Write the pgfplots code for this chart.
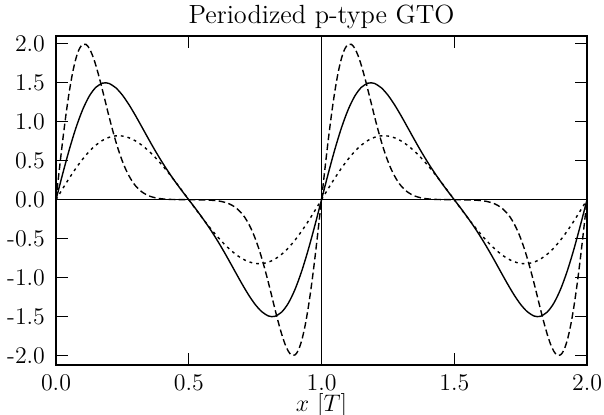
\documentclass[border=0pt]{standalone}
\usepackage{fontspec}
\usepackage{pgfplots}
\pgfplotsset{compat=1.18}
\usepackage{pgfplotstable}

% one period, x in [0,1]; the second period is the same table shifted by 1
\pgfplotstableread{
x      y
0      0
0.025  0.3300
0.05   0.6422
0.075  0.9206
0.1    1.1520
0.125  1.3272
0.15   1.4416
0.175  1.4950
0.1875 1.4999
0.2    1.4913
0.225  1.4365
0.25   1.3423
0.275  1.2186
0.3    1.0758
0.325  0.9237
0.35   0.7701
0.375  0.6212
0.4    0.4803
0.425  0.3491
0.45   0.2268
0.475  0.1115
0.5    0
0.525  -0.1115
0.55   -0.2268
0.575  -0.3491
0.6    -0.4803
0.625  -0.6212
0.65   -0.7701
0.675  -0.9237
0.7    -1.0758
0.725  -1.2186
0.75   -1.3423
0.775  -1.4365
0.8    -1.4913
0.8125 -1.4999
0.825  -1.4950
0.85   -1.4416
0.875  -1.3272
0.9    -1.1520
0.925  -0.9206
0.95   -0.6422
0.975  -0.3300
1      0
}\solid

\pgfplotstableread{
x      y
0      0
0.0125 0.3840
0.025  0.7523
0.0375 1.0903
0.05   1.3854
0.0625 1.6279
0.075  1.8111
0.0875 1.9324
0.1    1.9920
0.1125 1.9939
0.125  1.9441
0.1375 1.8510
0.15   1.7239
0.1625 1.5727
0.175  1.4068
0.1875 1.2347
0.2    1.0642
0.2125 0.9013
0.225  0.7501
0.2375 0.6139
0.25   0.4943
0.2625 0.3915
0.275  0.3053
0.2875 0.2342
0.3    0.1769
0.325  0.0963
0.35   0.0494
0.375  0.0238
0.4    0.0108
0.425  0.0047
0.45   0.0019
0.475  0.0006
0.5    0
0.525  -0.0006
0.55   -0.0019
0.575  -0.0047
0.6    -0.0108
0.625  -0.0238
0.65   -0.0494
0.675  -0.0963
0.7    -0.1769
0.7125 -0.2342
0.725  -0.3053
0.7375 -0.3915
0.75   -0.4943
0.7625 -0.6139
0.775  -0.7501
0.7875 -0.9013
0.8    -1.0642
0.8125 -1.2347
0.825  -1.4068
0.8375 -1.5727
0.85   -1.7239
0.8625 -1.8510
0.875  -1.9441
0.8875 -1.9939
0.9    -1.9920
0.9125 -1.9324
0.925  -1.8111
0.9375 -1.6279
0.95   -1.3854
0.9625 -1.0903
0.975  -0.7523
0.9875 -0.3840
1      0
}\dashed

\pgfplotstableread{
x      y
0      0
0.025  0.1404
0.05   0.2764
0.075  0.4038
0.1    0.5189
0.125  0.6183
0.15   0.6996
0.175  0.7608
0.2    0.8009
0.225  0.8195
0.25   0.8171
0.275  0.7946
0.3    0.7535
0.325  0.6955
0.35   0.6228
0.375  0.5376
0.4    0.4421
0.425  0.3385
0.45   0.2289
0.475  0.1154
0.5    0
0.525  -0.1154
0.55   -0.2289
0.575  -0.3385
0.6    -0.4421
0.625  -0.5376
0.65   -0.6228
0.675  -0.6955
0.7    -0.7535
0.725  -0.7946
0.75   -0.8171
0.775  -0.8195
0.8    -0.8009
0.825  -0.7608
0.85   -0.6996
0.875  -0.6183
0.9    -0.5189
0.925  -0.4038
0.95   -0.2764
0.975  -0.1404
1      0
}\dotted

\begin{document}
\begin{tikzpicture}
\path[use as bounding box] (-28bp,-25bp) rectangle (274bp,182.5bp);
\begin{axis}[
    scale only axis,
    width=265.5bp, height=164.5bp,
    xmin=0, xmax=2,
    ymin=-2.12, ymax=2.1,
    axis line style={line width=0.9pt},
    tick style={line width=0.7pt, black},
    major tick length=6bp,
    tick pos=both,
    xtick={0,0.5,1,1.5,2},
    xticklabels={0.0,0.5,1.0,1.5,2.0},
    ytick={-2,-1.5,-1,-0.5,0,0.5,1,1.5,2},
    yticklabels={-2.0,-1.5,-1.0,-0.5,0.0,0.5,1.0,1.5,2.0},
    ticklabel style={font=\fontsize{12}{14}\selectfont},
    xticklabel style={anchor=base, yshift=-12.8bp},
    yticklabel style={xshift=-2bp},
    every axis title shift=0pt,
    title={Periodized p-type GTO},
    title style={at={(0.5,1)}, anchor=base, yshift=6.5bp,
        font=\fontsize{13.2}{15}\selectfont},
    xlabel={$x\ [T]$},
    xlabel style={at={(0.5,0)}, anchor=base, yshift=-23.3bp,
        font=\fontsize{12.5}{15}\selectfont},
    every axis plot/.append style={black, line width=0.7pt},
]
\addplot[line width=0.6pt] coordinates {(0,0) (2,0)};
\addplot[line width=0.6pt] coordinates {(1,-2.12) (1,2.1)};

\addplot[smooth] table {\solid};
\addplot[smooth] table[x expr=\thisrow{x}+1] {\solid};

\addplot[smooth, dash pattern=on 3.3bp off 1.7bp] table {\dashed};
\addplot[smooth, dash pattern=on 3.3bp off 1.7bp] table[x expr=\thisrow{x}+1] {\dashed};

\addplot[smooth, dash pattern=on 1.4bp off 2bp] table {\dotted};
\addplot[smooth, dash pattern=on 1.4bp off 2bp] table[x expr=\thisrow{x}+1] {\dotted};
\end{axis}
\end{tikzpicture}
\end{document}
